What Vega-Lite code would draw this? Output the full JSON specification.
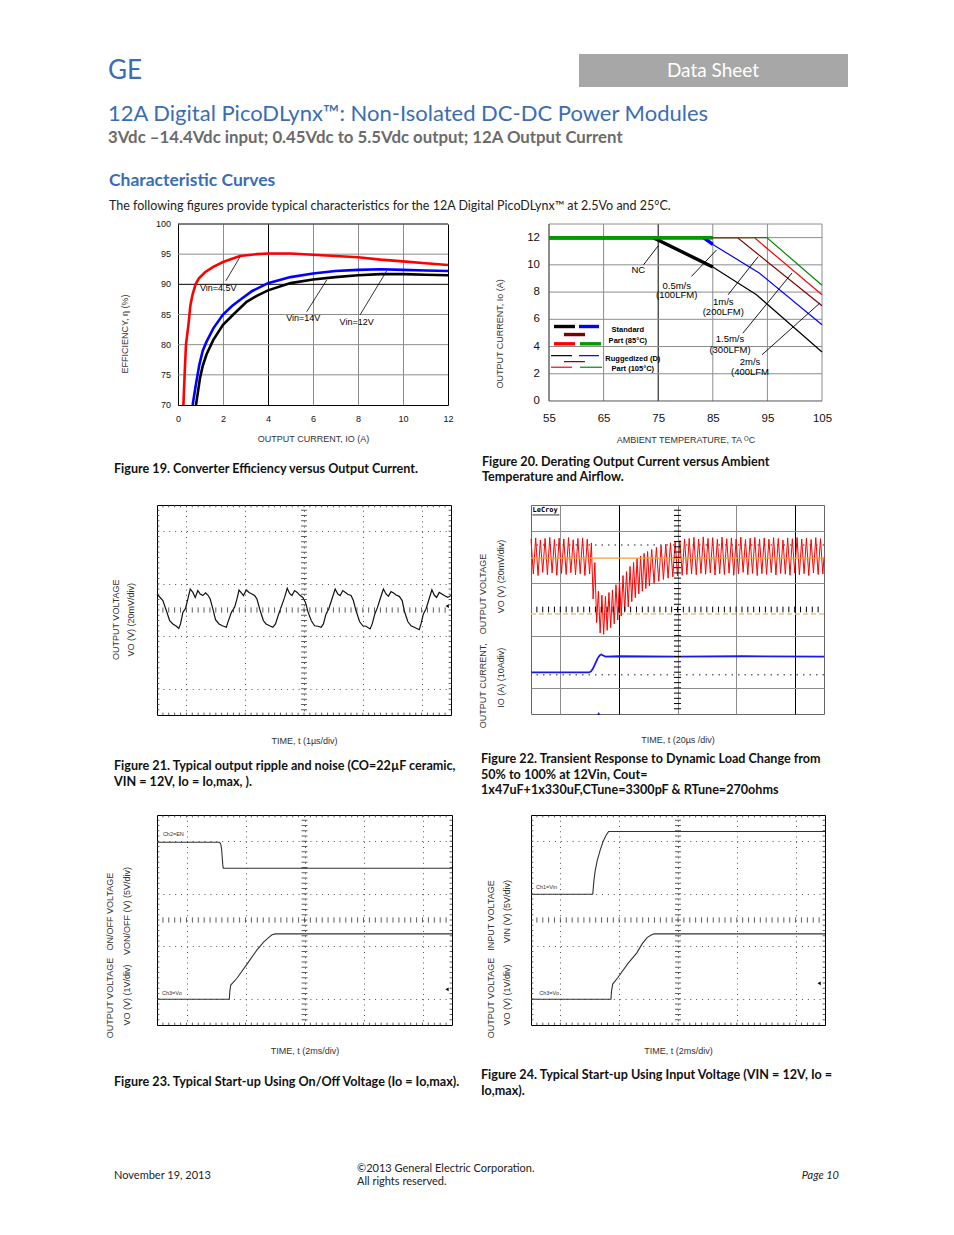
{
"$schema": "https://vega.github.io/schema/vega-lite/v6.json",
"padding": 0,
"background": "white",
"autosize": {"type": "pad"},
"config": {
  "view": {"stroke": null},
  "axis": {"labelFont": "Liberation Sans", "titleFont": "Liberation Sans", "titleFontWeight": "normal", "titleColor": "#333", "labelColor": "#111", "labelFlush": false, "labelOverlap": false},
  "title": {"orient": "bottom", "anchor": "start", "frame": "group", "font": "Lato", "fontSize": 12.6, "fontWeight": "bold", "color": "#111", "lineHeight": 15.5}
},
"datasets": {
  "one": [{}],
  "gx": [{"v":55},{"v":65},{"v":75},{"v":85},{"v":95},{"v":105}],
  "gy20": [{"v":2},{"v":4},{"v":6},{"v":8},{"v":10},{"v":12},{"v":13}],
  "gy19": [{"v":75},{"v":80},{"v":85},{"v":90},{"v":95},{"v":100}],
  "yl19": [{"v":70},{"v":75},{"v":80},{"v":85},{"v":90},{"v":95},{"v":100}],
  "yl20": [{"v":0},{"v":2},{"v":4},{"v":6},{"v":8},{"v":10},{"v":12}],
  "eff": [
    {"v":"4.5","i":0.24,"e":70},{"v":"4.5","i":0.3,"e":75.5},{"v":"4.5","i":0.355,"e":80},{"v":"4.5","i":0.47,"e":83.5},{"v":"4.5","i":0.55,"e":86.5},{"v":"4.5","i":0.64,"e":88.2},{"v":"4.5","i":0.78,"e":90},{"v":"4.5","i":0.93,"e":91},{"v":"4.5","i":1.2,"e":92},{"v":"4.5","i":1.57,"e":92.9},{"v":"4.5","i":2,"e":93.7},{"v":"4.5","i":2.75,"e":94.7},{"v":"4.5","i":3.5,"e":95},{"v":"4.5","i":4,"e":95.1},{"v":"4.5","i":5,"e":95.1},{"v":"4.5","i":6,"e":94.9},{"v":"4.5","i":7,"e":94.7},{"v":"4.5","i":8,"e":94.5},{"v":"4.5","i":9,"e":94.1},{"v":"4.5","i":10,"e":93.8},{"v":"4.5","i":11,"e":93.5},{"v":"4.5","i":12,"e":93.2},
    {"v":"14","i":0.65,"e":70},{"v":"14","i":0.8,"e":73.5},{"v":"14","i":0.95,"e":76.7},{"v":"14","i":1.1,"e":79},{"v":"14","i":1.27,"e":80.5},{"v":"14","i":1.57,"e":82.7},{"v":"14","i":2,"e":85},{"v":"14","i":2.4,"e":86.4},{"v":"14","i":2.75,"e":87.4},{"v":"14","i":3.3,"e":88.9},{"v":"14","i":4,"e":90.2},{"v":"14","i":5,"e":91.2},{"v":"14","i":6,"e":91.8},{"v":"14","i":7,"e":92.2},{"v":"14","i":8,"e":92.4},{"v":"14","i":9,"e":92.5},{"v":"14","i":10,"e":92.4},{"v":"14","i":11,"e":92.3},{"v":"14","i":12,"e":92.2},
    {"v":"12","i":0.8,"e":70},{"v":"12","i":0.9,"e":72.5},{"v":"12","i":0.98,"e":74.5},{"v":"12","i":1.1,"e":76.5},{"v":"12","i":1.27,"e":78.4},{"v":"12","i":1.57,"e":80.8},{"v":"12","i":2,"e":83.3},{"v":"12","i":2.46,"e":85},{"v":"12","i":3.05,"e":87.1},{"v":"12","i":3.5,"e":88.1},{"v":"12","i":4,"e":89},{"v":"12","i":5,"e":90.2},{"v":"12","i":6,"e":90.8},{"v":"12","i":7,"e":91.2},{"v":"12","i":8,"e":91.5},{"v":"12","i":9,"e":91.7},{"v":"12","i":10,"e":91.7},{"v":"12","i":11,"e":91.6},{"v":"12","i":12,"e":91.5}
  ],
  "ann19r": [
    {"x1":2.13,"y1":90.6,"x2":2.76,"y2":94.58},
    {"x1":5.72,"y1":85.46,"x2":6.61,"y2":90.72},
    {"x1":8.09,"y1":84.92,"x2":9.27,"y2":92.2}
  ],
  "ann19t": [
    {"x":1.79,"y":89.45,"l":"Vin=4.5V"},
    {"x":5.57,"y":84.37,"l":"Vin=14V"},
    {"x":7.94,"y":83.81,"l":"Vin=12V"}
  ],
  "der": [
    {"s":"rug_nc","g":"m","t":55,"c":12},{"s":"rug_nc","g":"m","t":74.1,"c":12},{"s":"rug_nc","g":"m","t":85,"c":9.84},{"s":"rug_nc","g":"m","t":93,"c":7.8},{"s":"rug_nc","g":"m","t":105,"c":3.6},
    {"s":"rug_nc","g":"l","t":55.37,"c":3.33},{"s":"rug_nc","g":"l","t":59.21,"c":3.33},
    {"s":"rug_05","g":"m","t":55,"c":12},{"s":"rug_05","g":"m","t":83.3,"c":12},{"s":"rug_05","g":"m","t":85,"c":11.5},{"s":"rug_05","g":"m","t":93.5,"c":9.4},{"s":"rug_05","g":"m","t":105,"c":5.6},
    {"s":"rug_05","g":"l","t":60.49,"c":3.33},{"s":"rug_05","g":"l","t":64.16,"c":3.33},
    {"s":"rug_1","g":"m","t":55,"c":12},{"s":"rug_1","g":"m","t":89.5,"c":12},{"s":"rug_1","g":"m","t":105,"c":7.0},
    {"s":"rug_1","g":"l","t":57.74,"c":2.89},{"s":"rug_1","g":"l","t":61.59,"c":2.89},
    {"s":"rug_15","g":"m","t":55,"c":12},{"s":"rug_15","g":"m","t":92.6,"c":12},{"s":"rug_15","g":"m","t":105,"c":7.8},
    {"s":"rug_15","g":"l","t":55.37,"c":2.48},{"s":"rug_15","g":"l","t":59.21,"c":2.48},
    {"s":"rug_2","g":"m","t":55,"c":12},{"s":"rug_2","g":"m","t":94.9,"c":12},{"s":"rug_2","g":"m","t":105,"c":8.5},
    {"s":"rug_2","g":"l","t":60.68,"c":2.48},{"s":"rug_2","g":"l","t":64.71,"c":2.48},
    {"s":"std_nc","g":"m","t":55,"c":12},{"s":"std_nc","g":"m","t":74.1,"c":12},{"s":"std_nc","g":"m","t":85,"c":9.84},
    {"s":"std_nc","g":"l","t":55.92,"c":5.47},{"s":"std_nc","g":"l","t":59.76,"c":5.47},
    {"s":"std_05","g":"m","t":55,"c":12},{"s":"std_05","g":"m","t":83.3,"c":12},{"s":"std_05","g":"m","t":85,"c":11.5},
    {"s":"std_05","g":"l","t":60.49,"c":5.47},{"s":"std_05","g":"l","t":64.16,"c":5.47},
    {"s":"std_1","g":"m","t":55,"c":12},{"s":"std_1","g":"m","t":85,"c":12},
    {"s":"std_1","g":"l","t":57.74,"c":4.88},{"s":"std_1","g":"l","t":61.59,"c":4.88},
    {"s":"std_15","g":"m","t":55,"c":12},{"s":"std_15","g":"m","t":85,"c":12},
    {"s":"std_15","g":"l","t":55.92,"c":4.2},{"s":"std_15","g":"l","t":59.76,"c":4.2},
    {"s":"std_2","g":"m","t":55,"c":12},{"s":"std_2","g":"m","t":85,"c":12},
    {"s":"std_2","g":"l","t":60.68,"c":4.2},{"s":"std_2","g":"l","t":64.53,"c":4.2}
  ],
  "ann20r": [
    {"x1":72.3,"y1":10.0,"x2":75.0,"y2":11.4},
    {"x1":81.1,"y1":9.15,"x2":85.7,"y2":11.1},
    {"x1":87.8,"y1":7.8,"x2":93.3,"y2":10.6},
    {"x1":90.5,"y1":4.98,"x2":99.5,"y2":9.4},
    {"x1":94.0,"y1":3.39,"x2":104.6,"y2":7.19}
  ],
  "ann20t": [
    {"x":71.36,"y":9.65,"l":"NC"},
    {"x":78.39,"y":8.47,"l":"0.5m/s"},{"x":78.39,"y":7.76,"l":"(100LFM)"},
    {"x":86.92,"y":7.27,"l":"1m/s"},{"x":86.92,"y":6.53,"l":"(200LFM)"},
    {"x":88.15,"y":4.57,"l":"1.5m/s"},{"x":88.15,"y":3.76,"l":"(300LFM)"},
    {"x":91.81,"y":2.89,"l":"2m/s"},{"x":91.81,"y":2.16,"l":"(400LFM"}
  ],
  "leg20": [
    {"x":69.44,"y":5.18,"l":"Standard"},{"x":69.44,"y":4.37,"l":"Part (85°C)"},
    {"x":70.35,"y":3.09,"l":"Ruggedized (D)"},{"x":70.35,"y":2.36,"l":"Part (105°C)"}
  ],
  "rip": [
    {"x":0,"y":4.61},{"x":0.2,"y":4.36},{"x":0.32,"y":3.97},{"x":0.43,"y":3.59},{"x":0.54,"y":3.47},{"x":0.66,"y":3.38},{"x":0.74,"y":3.3},{"x":0.8,"y":3.47},{"x":0.88,"y":3.91},{"x":0.97,"y":4.06},{"x":1.05,"y":4.42},{"x":1.13,"y":4.8},{"x":1.22,"y":4.67},{"x":1.3,"y":4.48},{"x":1.39,"y":4.74},{"x":1.47,"y":4.61},{"x":1.56,"y":4.55},{"x":1.65,"y":4.65},{"x":1.73,"y":4.57},{"x":1.81,"y":4.42},{"x":1.9,"y":4.04},{"x":1.99,"y":3.63},{"x":2.11,"y":3.47},{"x":2.22,"y":3.4},{"x":2.36,"y":3.34},{"x":2.41,"y":3.53},{"x":2.53,"y":3.91},{"x":2.64,"y":4.1},{"x":2.72,"y":4.42},{"x":2.79,"y":4.76},{"x":2.87,"y":4.65},{"x":2.94,"y":4.55},{"x":3.04,"y":4.76},{"x":3.13,"y":4.67},{"x":3.23,"y":4.61},{"x":3.32,"y":4.55},{"x":3.4,"y":4.42},{"x":3.51,"y":3.97},{"x":3.62,"y":3.59},{"x":3.71,"y":3.47},{"x":3.83,"y":3.4},{"x":3.94,"y":3.34},{"x":4.03,"y":3.47},{"x":4.14,"y":3.85},{"x":4.22,"y":4.1},{"x":4.34,"y":4.48},{"x":4.43,"y":4.83},{"x":4.51,"y":4.63},{"x":4.59,"y":4.55},{"x":4.68,"y":4.74},{"x":4.77,"y":4.67},{"x":4.85,"y":4.57},{"x":4.96,"y":4.48},{"x":5.05,"y":4.29},{"x":5.14,"y":3.91},{"x":5.25,"y":3.59},{"x":5.36,"y":3.4},{"x":5.47,"y":3.38},{"x":5.58,"y":3.34},{"x":5.66,"y":3.47},{"x":5.75,"y":3.85},{"x":5.84,"y":4.04},{"x":5.95,"y":4.42},{"x":6.06,"y":4.8},{"x":6.15,"y":4.61},{"x":6.23,"y":4.55},{"x":6.32,"y":4.74},{"x":6.41,"y":4.67},{"x":6.49,"y":4.6},{"x":6.6,"y":4.55},{"x":6.68,"y":4.36},{"x":6.77,"y":3.97},{"x":6.89,"y":3.56},{"x":7.0,"y":3.4},{"x":7.11,"y":3.38},{"x":7.25,"y":3.28},{"x":7.32,"y":3.47},{"x":7.41,"y":3.85},{"x":7.5,"y":4.1},{"x":7.59,"y":4.42},{"x":7.7,"y":4.8},{"x":7.79,"y":4.61},{"x":7.87,"y":4.52},{"x":7.96,"y":4.7},{"x":8.05,"y":4.65},{"x":8.13,"y":4.57},{"x":8.24,"y":4.52},{"x":8.34,"y":4.36},{"x":8.41,"y":3.97},{"x":8.53,"y":3.56},{"x":8.64,"y":3.4},{"x":8.75,"y":3.34},{"x":8.92,"y":3.25},{"x":8.98,"y":3.47},{"x":9.06,"y":3.85},{"x":9.15,"y":4.04},{"x":9.24,"y":4.36},{"x":9.35,"y":4.77},{"x":9.43,"y":4.57},{"x":9.51,"y":4.48},{"x":9.6,"y":4.67},{"x":9.69,"y":4.61},{"x":9.77,"y":4.55},{"x":9.89,"y":4.48},{"x":10,"y":4.55}
  ],
  "trv": [
    {"x":0,"y":6.7},{"x":0.08,"y":5.36},{"x":0.16,"y":6.74},{"x":0.24,"y":5.3},{"x":0.32,"y":6.66},{"x":0.4,"y":5.42},{"x":0.48,"y":6.72},{"x":0.56,"y":5.33},{"x":0.64,"y":6.76},{"x":0.72,"y":5.4},{"x":0.8,"y":6.68},{"x":0.88,"y":5.31},{"x":0.96,"y":6.73},{"x":1.04,"y":5.38},{"x":1.12,"y":6.7},{"x":1.2,"y":5.34},{"x":1.28,"y":6.75},{"x":1.36,"y":5.41},{"x":1.44,"y":6.67},{"x":1.52,"y":5.32},{"x":1.6,"y":6.72},{"x":1.68,"y":5.37},{"x":1.76,"y":6.74},{"x":1.84,"y":5.3},{"x":1.92,"y":6.69},{"x":2.0,"y":5.36},
    {"x":2.06,"y":6.55},{"x":2.12,"y":4.4},{"x":2.18,"y":5.8},{"x":2.24,"y":3.5},{"x":2.3,"y":4.7},{"x":2.36,"y":3.1},{"x":2.42,"y":4.55},{"x":2.48,"y":3.05},{"x":2.54,"y":4.5},{"x":2.6,"y":3.2},{"x":2.66,"y":4.65},{"x":2.72,"y":3.3},{"x":2.78,"y":4.75},{"x":2.84,"y":3.45},{"x":2.9,"y":4.95},{"x":2.96,"y":3.6},{"x":3.02,"y":5.1},{"x":3.08,"y":3.75},{"x":3.14,"y":5.3},{"x":3.2,"y":3.95},{"x":3.26,"y":5.45},{"x":3.32,"y":4.1},{"x":3.38,"y":5.65},{"x":3.44,"y":4.3},{"x":3.5,"y":5.8},{"x":3.56,"y":4.45},{"x":3.62,"y":5.95},{"x":3.68,"y":4.6},{"x":3.74,"y":6.05},{"x":3.8,"y":4.7},{"x":3.86,"y":6.15},{"x":3.92,"y":4.8},{"x":3.98,"y":6.22},{"x":4.04,"y":4.9},{"x":4.12,"y":6.3},{"x":4.2,"y":5.0},{"x":4.28,"y":6.38},{"x":4.36,"y":5.08},{"x":4.44,"y":6.45},{"x":4.52,"y":5.15},{"x":4.6,"y":6.5},{"x":4.68,"y":5.2},{"x":4.76,"y":6.55},{"x":4.84,"y":5.25},{"x":4.92,"y":6.6},{"x":5.0,"y":5.28},
    {"x":5.08,"y":6.64},{"x":5.16,"y":5.31},{"x":5.24,"y":6.7},{"x":5.32,"y":5.34},{"x":5.4,"y":6.72},{"x":5.48,"y":5.36},{"x":5.56,"y":6.76},{"x":5.64,"y":5.33},{"x":5.72,"y":6.7},{"x":5.8,"y":5.38},{"x":5.88,"y":6.78},{"x":5.96,"y":5.35},{"x":6.04,"y":6.72},{"x":6.12,"y":5.4},{"x":6.2,"y":6.75},{"x":6.28,"y":5.32},{"x":6.36,"y":6.69},{"x":6.44,"y":5.37},{"x":6.52,"y":6.77},{"x":6.6,"y":5.34},{"x":6.68,"y":6.71},{"x":6.76,"y":5.39},{"x":6.84,"y":6.74},{"x":6.92,"y":5.31},{"x":7.0,"y":6.7},{"x":7.08,"y":5.36},{"x":7.16,"y":6.77},{"x":7.24,"y":5.42},{"x":7.32,"y":6.68},{"x":7.4,"y":5.33},{"x":7.48,"y":6.73},{"x":7.56,"y":5.38},{"x":7.64,"y":6.76},{"x":7.72,"y":5.3},{"x":7.8,"y":6.7},{"x":7.88,"y":5.37},{"x":7.96,"y":6.74},{"x":8.04,"y":5.34},{"x":8.12,"y":6.69},{"x":8.2,"y":5.41},{"x":8.28,"y":6.75},{"x":8.36,"y":5.32},{"x":8.44,"y":6.72},{"x":8.52,"y":5.38},{"x":8.6,"y":6.66},{"x":8.68,"y":5.35},{"x":8.76,"y":6.74},{"x":8.84,"y":5.31},{"x":8.92,"y":6.71},{"x":9.0,"y":5.39},{"x":9.08,"y":6.76},{"x":9.16,"y":5.33},{"x":9.24,"y":6.7},{"x":9.32,"y":5.37},{"x":9.4,"y":6.73},{"x":9.48,"y":5.3},{"x":9.56,"y":6.68},{"x":9.64,"y":5.4},{"x":9.72,"y":6.75},{"x":9.8,"y":5.34},{"x":9.88,"y":6.71},{"x":9.96,"y":5.36},{"x":10,"y":6.0}
  ],
  "tri": [
    {"x":0,"y":1.59},{"x":1.98,"y":1.59},{"x":2.05,"y":1.63},{"x":2.12,"y":1.75},{"x":2.2,"y":1.95},{"x":2.28,"y":2.14},{"x":2.35,"y":2.25},{"x":2.4,"y":2.28},{"x":2.46,"y":2.24},{"x":2.55,"y":2.2},{"x":3.0,"y":2.21},{"x":5.0,"y":2.2},{"x":7.2,"y":2.21},{"x":10,"y":2.2}
  ],
  "s23": [
    {"ch":"en","x":0,"y":6.96},{"ch":"en","x":2.12,"y":6.96},{"ch":"en","x":2.16,"y":6.9},{"ch":"en","x":2.19,"y":6.7},{"ch":"en","x":2.21,"y":6.4},{"ch":"en","x":2.23,"y":6.1},{"ch":"en","x":2.25,"y":5.97},{"ch":"en","x":10,"y":5.97},
    {"ch":"vo","x":0,"y":0.98},{"ch":"vo","x":2.45,"y":0.98},{"ch":"vo","x":2.47,"y":1.3},{"ch":"vo","x":2.5,"y":1.52},{"ch":"vo","x":2.71,"y":1.78},{"ch":"vo","x":3.05,"y":2.32},{"ch":"vo","x":3.39,"y":2.86},{"ch":"vo","x":3.62,"y":3.17},{"ch":"vo","x":3.79,"y":3.34},{"ch":"vo","x":3.9,"y":3.44},{"ch":"vo","x":4.01,"y":3.47},{"ch":"vo","x":10,"y":3.47}
  ],
  "s24": [
    {"ch":"vin","x":0,"y":4.98},{"ch":"vin","x":2.1,"y":4.98},{"ch":"vin","x":2.14,"y":5.5},{"ch":"vin","x":2.18,"y":5.85},{"ch":"vin","x":2.25,"y":6.25},{"ch":"vin","x":2.35,"y":6.65},{"ch":"vin","x":2.45,"y":6.98},{"ch":"vin","x":2.55,"y":7.22},{"ch":"vin","x":2.64,"y":7.37},{"ch":"vin","x":10,"y":7.37},
    {"ch":"vo","x":0,"y":0.98},{"ch":"vo","x":2.72,"y":0.98},{"ch":"vo","x":2.74,"y":1.3},{"ch":"vo","x":2.78,"y":1.56},{"ch":"vo","x":2.95,"y":1.8},{"ch":"vo","x":3.3,"y":2.35},{"ch":"vo","x":3.6,"y":2.75},{"ch":"vo","x":3.79,"y":3.11},{"ch":"vo","x":3.95,"y":3.33},{"ch":"vo","x":4.1,"y":3.44},{"ch":"vo","x":4.2,"y":3.47},{"ch":"vo","x":10,"y":3.47}
  ],
  "tx": [{"p":0.2},{"p":0.4},{"p":0.6},{"p":0.8},{"p":1},{"p":1.2},{"p":1.4},{"p":1.6},{"p":1.8},{"p":2},{"p":2.2},{"p":2.4},{"p":2.6},{"p":2.8},{"p":3},{"p":3.2},{"p":3.4},{"p":3.6},{"p":3.8},{"p":4},{"p":4.2},{"p":4.4},{"p":4.6},{"p":4.8},{"p":5},{"p":5.2},{"p":5.4},{"p":5.6},{"p":5.8},{"p":6},{"p":6.2},{"p":6.4},{"p":6.6},{"p":6.8},{"p":7},{"p":7.2},{"p":7.4},{"p":7.6},{"p":7.8},{"p":8},{"p":8.2},{"p":8.4},{"p":8.6},{"p":8.8},{"p":9},{"p":9.2},{"p":9.4},{"p":9.6},{"p":9.8}],
  "ty": [{"p":0.2},{"p":0.4},{"p":0.6},{"p":0.8},{"p":1},{"p":1.2},{"p":1.4},{"p":1.6},{"p":1.8},{"p":2},{"p":2.2},{"p":2.4},{"p":2.6},{"p":2.8},{"p":3},{"p":3.2},{"p":3.4},{"p":3.6},{"p":3.8},{"p":4},{"p":4.2},{"p":4.4},{"p":4.6},{"p":4.8},{"p":5},{"p":5.2},{"p":5.4},{"p":5.6},{"p":5.8},{"p":6},{"p":6.2},{"p":6.4},{"p":6.6},{"p":6.8},{"p":7},{"p":7.2},{"p":7.4},{"p":7.6},{"p":7.8}]
},
"columns": 4,
"align": "each",
"bounds": "flush",
"spacing": {"row": 100, "column": 0},
"concat": [
  {
    "width": 157, "height": 124,
    "data": {"name": "one"},
    "layer": [
      {"mark": {"type": "rect", "fill": "white"},
       "encoding": {"x": {"datum": 0, "type": "quantitative", "scale": {"domain": [0, 157], "nice": false, "zero": false}, "axis": null}, "x2": {"datum": 954},
                    "y": {"datum": 0, "type": "quantitative", "scale": {"domain": [0, 124], "reverse": true, "nice": false, "zero": false}, "axis": null}, "y2": {"datum": 124}}},
      {"mark": {"type": "rect", "fill": "#a7a7a7"},
       "encoding": {"x": {"datum": 579, "type": "quantitative"}, "x2": {"datum": 848}, "y": {"datum": 54, "type": "quantitative"}, "y2": {"datum": 87}}},
      {"mark": {"type": "text", "font": "Lato", "fontSize": 26, "color": "#3b6db4", "align": "left", "baseline": "alphabetic"},
       "encoding": {"x": {"datum": 108, "type": "quantitative"}, "y": {"datum": 79, "type": "quantitative"}, "text": {"value": "GE"}}},
      {"mark": {"type": "text", "font": "Lato", "fontSize": 19, "color": "#ffffff", "align": "center", "baseline": "alphabetic"},
       "encoding": {"x": {"datum": 713, "type": "quantitative"}, "y": {"datum": 77, "type": "quantitative"}, "text": {"value": "Data Sheet"}}},
      {"mark": {"type": "text", "font": "Lato", "fontSize": 22, "color": "#3b6db4", "align": "left", "baseline": "alphabetic"},
       "encoding": {"x": {"datum": 108, "type": "quantitative"}, "y": {"datum": 121, "type": "quantitative"}, "text": {"value": "12A Digital PicoDLynx™: Non-Isolated DC-DC Power Modules"}}},
      {"mark": {"type": "text", "font": "Lato", "fontSize": 16.8, "fontWeight": "bold", "color": "#6b6b6b", "align": "left", "baseline": "alphabetic"},
       "encoding": {"x": {"datum": 108, "type": "quantitative"}, "y": {"datum": 143, "type": "quantitative"}, "text": {"value": "3Vdc –14.4Vdc input; 0.45Vdc to 5.5Vdc output; 12A Output Current"}}},
      {"mark": {"type": "text", "font": "Lato", "fontSize": 17.5, "fontWeight": "bold", "color": "#3b6db4", "align": "left", "baseline": "alphabetic"},
       "encoding": {"x": {"datum": 109, "type": "quantitative"}, "y": {"datum": 185.5, "type": "quantitative"}, "text": {"value": "Characteristic Curves"}}},
      {"mark": {"type": "text", "font": "Lato", "fontSize": 12.5, "color": "#222", "align": "left", "baseline": "alphabetic"},
       "encoding": {"x": {"datum": 109, "type": "quantitative"}, "y": {"datum": 209.5, "type": "quantitative"}, "text": {"value": "The following figures provide typical characteristics for the 12A Digital PicoDLynx™ at 2.5Vo and 25°C."}}}
    ]
  },
  {"width": 1, "height": 124, "data": {"name": "one"}, "mark": {"type": "point", "opacity": 0}, "encoding": {}},
  {"width": 1, "height": 124, "data": {"name": "one"}, "mark": {"type": "point", "opacity": 0}, "encoding": {}},
  {"width": 1, "height": 124, "data": {"name": "one"}, "mark": {"type": "point", "opacity": 0}, "encoding": {}},
  {"width": 157, "height": 181, "data": {"name": "one"}, "mark": {"type": "point", "opacity": 0}, "encoding": {}},
  {
    "width": 295, "height": 181,
    "title": {"text": "Figure 19. Converter Efficiency versus Output Current.", "dx": -43, "offset": 20},
    "layer": [
      {"data": {"name": "gy19"}, "mark": {"type": "rule", "strokeWidth": 1},
       "encoding": {"y": {"field": "v", "type": "quantitative"}, "x": {"datum": 0, "type": "quantitative"}, "x2": {"datum": 12},
                    "color": {"condition": {"test": "datum.v === 90 || datum.v === 100", "value": "#000"}, "value": "#8c8c8c"}}},
      {"data": {"name": "eff"}, "transform": [{"filter": "datum.v === '12'"}],
       "mark": {"type": "line", "color": "#000", "strokeWidth": 2.6, "clip": true},
       "encoding": {
         "x": {"field": "i", "type": "quantitative", "scale": {"domain": [0, 12], "range": [21, 291], "nice": false, "zero": false},
               "axis": {"values": [0, 2, 4, 6, 8, 10, 12], "grid": true, "gridColor": {"condition": {"test": "datum.value === 4 || datum.value === 12", "value": "#000"}, "value": "#8c8c8c"}, "ticks": false, "domainColor": "#000", "labelFontSize": 9, "labelPadding": 9, "labelOverlap": false, "title": "OUTPUT CURRENT, IO (A)", "titleFontSize": 9, "titlePadding": 11}},
         "y": {"field": "e", "type": "quantitative", "scale": {"domain": [70, 100], "nice": false, "zero": false},
               "axis": {"grid": false, "offset": -21, "ticks": false, "labels": false, "domainColor": "#000", "title": null}}
       }},
      {"data": {"name": "eff"}, "transform": [{"filter": "datum.v === '14'"}],
       "mark": {"type": "line", "color": "#0000ff", "strokeWidth": 2.6, "clip": true},
       "encoding": {"x": {"field": "i", "type": "quantitative"}, "y": {"field": "e", "type": "quantitative"}}},
      {"data": {"name": "eff"}, "transform": [{"filter": "datum.v === '4.5'"}],
       "mark": {"type": "line", "color": "#ff0000", "strokeWidth": 2.6, "clip": true},
       "encoding": {"x": {"field": "i", "type": "quantitative"}, "y": {"field": "e", "type": "quantitative"}}},
      {"data": {"name": "yl19"}, "mark": {"type": "text", "font": "Liberation Sans", "fontSize": 9, "color": "#111", "align": "right", "baseline": "middle"},
       "encoding": {"y": {"field": "v", "type": "quantitative"}, "x": {"datum": -0.31, "type": "quantitative"}, "text": {"field": "v", "type": "quantitative"}}},
      {"data": {"name": "ann19r"}, "mark": {"type": "rule", "color": "#000", "strokeWidth": 0.8},
       "encoding": {"x": {"field": "x1", "type": "quantitative"}, "y": {"field": "y1", "type": "quantitative"}, "x2": {"field": "x2"}, "y2": {"field": "y2"}}},
      {"data": {"name": "ann19t"}, "mark": {"type": "text", "font": "Liberation Sans", "fontSize": 9, "color": "#000"},
       "encoding": {"x": {"field": "x", "type": "quantitative"}, "y": {"field": "y", "type": "quantitative"}, "text": {"field": "l"}}},
      {"data": {"name": "one"}, "mark": {"type": "text", "angle": 270, "font": "Liberation Sans", "fontSize": 9, "color": "#333"},
       "encoding": {"x": {"datum": -2.36, "type": "quantitative"}, "y": {"datum": 81.77, "type": "quantitative"}, "text": {"value": "EFFICIENCY, η  (%)"}}}
    ]
  },
  {"width": 79, "height": 181, "data": {"name": "one"}, "mark": {"type": "point", "opacity": 0}, "encoding": {}},
  {
    "width": 295, "height": 181,
    "title": {"text": ["Figure 20. Derating Output Current versus Ambient", "Temperature and Airflow."], "dx": -49, "offset": 11},
    "data": {"name": "der"},
    "layer": [
      {"data": {"name": "gx"}, "mark": {"type": "rule", "strokeWidth": 1},
       "encoding": {
         "x": {"field": "v", "type": "quantitative", "scale": {"domain": [55, 105], "range": [18, 291], "nice": false, "zero": false},
               "axis": {"values": [55, 65, 75, 85, 95, 105], "grid": false, "ticks": false, "domain": false, "offset": -4, "labelFontSize": 11.5, "labelPadding": 11, "labelOverlap": false, "title": "AMBIENT TEMPERATURE, TA ᴼC", "titleFontSize": 9, "titlePadding": 12}},
         "y": {"datum": 0, "type": "quantitative", "scale": {"domain": [-0.295, 13], "nice": false, "zero": false},
               "axis": null},
         "y2": {"datum": 13},
         "color": {"condition": {"test": "datum.v === 75", "value": "#000"}, "value": "#8c8c8c"}
       }},
      {"data": {"name": "gy20"}, "mark": {"type": "rule", "color": "#8c8c8c", "strokeWidth": 1}, "encoding": {"y": {"field": "v", "type": "quantitative", "axis": null}, "x": {"datum": 55, "type": "quantitative"}, "x2": {"datum": 105}}},
      {"data": {"name": "one"}, "mark": {"type": "rule", "color": "#555", "strokeWidth": 1}, "encoding": {"x": {"datum": 55, "type": "quantitative"}, "x2": {"datum": 105}, "y": {"datum": 0, "type": "quantitative", "axis": null}}},
      {"data": {"name": "one"}, "mark": {"type": "rule", "color": "#555", "strokeWidth": 1}, "encoding": {"x": {"datum": 55, "type": "quantitative"}, "y": {"datum": 0, "type": "quantitative", "axis": null}, "y2": {"datum": 13}}},
      {"data": {"name": "yl20"}, "mark": {"type": "text", "font": "Liberation Sans", "fontSize": 11.5, "color": "#111", "align": "right", "baseline": "middle"},
       "encoding": {"y": {"field": "v", "type": "quantitative", "axis": null}, "x": {"datum": 53.35, "type": "quantitative"}, "text": {"field": "v", "type": "quantitative"}}},
      {"transform": [{"filter": "datum.s === 'rug_nc'"}], "mark": {"type": "line", "color": "#000", "strokeWidth": 1.2},
       "encoding": {"x": {"field": "t", "type": "quantitative"}, "y": {"field": "c", "type": "quantitative", "axis": null}, "detail": {"field": "g"}}},
      {"transform": [{"filter": "datum.s === 'rug_05'"}], "mark": {"type": "line", "color": "#0000ff", "strokeWidth": 1.2},
       "encoding": {"x": {"field": "t", "type": "quantitative"}, "y": {"field": "c", "type": "quantitative", "axis": null}, "detail": {"field": "g"}}},
      {"transform": [{"filter": "datum.s === 'rug_1'"}], "mark": {"type": "line", "color": "#800000", "strokeWidth": 1.2},
       "encoding": {"x": {"field": "t", "type": "quantitative"}, "y": {"field": "c", "type": "quantitative", "axis": null}, "detail": {"field": "g"}}},
      {"transform": [{"filter": "datum.s === 'rug_15'"}], "mark": {"type": "line", "color": "#ff0000", "strokeWidth": 1.2},
       "encoding": {"x": {"field": "t", "type": "quantitative"}, "y": {"field": "c", "type": "quantitative", "axis": null}, "detail": {"field": "g"}}},
      {"transform": [{"filter": "datum.s === 'rug_2'"}], "mark": {"type": "line", "color": "#008a00", "strokeWidth": 1.2},
       "encoding": {"x": {"field": "t", "type": "quantitative"}, "y": {"field": "c", "type": "quantitative", "axis": null}, "detail": {"field": "g"}}},
      {"transform": [{"filter": "datum.s === 'std_nc'"}], "mark": {"type": "line", "color": "#000", "strokeWidth": 3.4},
       "encoding": {"x": {"field": "t", "type": "quantitative"}, "y": {"field": "c", "type": "quantitative", "axis": null}, "detail": {"field": "g"}}},
      {"transform": [{"filter": "datum.s === 'std_05'"}], "mark": {"type": "line", "color": "#0000ff", "strokeWidth": 3.4},
       "encoding": {"x": {"field": "t", "type": "quantitative"}, "y": {"field": "c", "type": "quantitative", "axis": null}, "detail": {"field": "g"}}},
      {"transform": [{"filter": "datum.s === 'std_1'"}], "mark": {"type": "line", "color": "#800000", "strokeWidth": 3.4},
       "encoding": {"x": {"field": "t", "type": "quantitative"}, "y": {"field": "c", "type": "quantitative", "axis": null}, "detail": {"field": "g"}}},
      {"transform": [{"filter": "datum.s === 'std_15'"}], "mark": {"type": "line", "color": "#ff0000", "strokeWidth": 3.4},
       "encoding": {"x": {"field": "t", "type": "quantitative"}, "y": {"field": "c", "type": "quantitative", "axis": null}, "detail": {"field": "g"}}},
      {"transform": [{"filter": "datum.s === 'std_2'"}], "mark": {"type": "line", "color": "#009a00", "strokeWidth": 3.4},
       "encoding": {"x": {"field": "t", "type": "quantitative"}, "y": {"field": "c", "type": "quantitative", "axis": null}, "detail": {"field": "g"}}},
      {"data": {"name": "ann20r"}, "mark": {"type": "rule", "color": "#000", "strokeWidth": 0.9},
       "encoding": {"x": {"field": "x1", "type": "quantitative"}, "y": {"field": "y1", "type": "quantitative", "axis": null}, "x2": {"field": "x2"}, "y2": {"field": "y2"}}},
      {"data": {"name": "ann20t"}, "mark": {"type": "text", "font": "Liberation Sans", "fontSize": 9.5, "color": "#000"},
       "encoding": {"x": {"field": "x", "type": "quantitative"}, "y": {"field": "y", "type": "quantitative", "axis": null}, "text": {"field": "l"}}},
      {"data": {"name": "leg20"}, "mark": {"type": "text", "font": "Liberation Sans", "fontSize": 7.5, "fontWeight": "bold", "color": "#000"},
       "encoding": {"x": {"field": "x", "type": "quantitative"}, "y": {"field": "y", "type": "quantitative", "axis": null}, "text": {"field": "l"}}},
      {"data": {"name": "one"}, "mark": {"type": "text", "angle": 270, "font": "Liberation Sans", "fontSize": 9, "color": "#333"},
       "encoding": {"x": {"datum": 46.03, "type": "quantitative"}, "y": {"datum": 4.93, "type": "quantitative", "axis": null}, "text": {"value": "OUTPUT CURRENT, Io  (A)"}}}
    ]
  },
  {"width": 157, "height": 210, "data": {"name": "one"}, "mark": {"type": "point", "opacity": 0}, "encoding": {}},
  {
    "width": 294, "height": 210,
    "view": {"stroke": "#000"},
    "title": {"text": ["Figure 21. Typical output ripple and noise (CO=22µF ceramic,", "VIN = 12V, Io = Io,max, )."], "dx": -43, "offset": 15},
    "layer": [
      {"data": {"name": "rip"}, "mark": {"type": "line", "color": "#111", "strokeWidth": 1.2},
       "encoding": {
         "x": {"field": "x", "type": "quantitative", "scale": {"domain": [0, 10], "nice": false, "zero": false},
               "axis": {"values": [1, 2, 3, 4, 5, 6, 7, 8, 9], "grid": true, "gridColor": "#555", "gridDash": [1, 4.25], "ticks": false, "labels": false, "domain": false, "title": "TIME, t (1µs/div)", "titleFontSize": 9, "titlePadding": 21}},
         "y": {"field": "y", "type": "quantitative", "scale": {"domain": [0, 8], "nice": false, "zero": false},
               "axis": {"values": [1, 2, 3, 4, 5, 6, 7], "grid": true, "gridColor": "#555", "gridDash": [1, 4.88], "ticks": false, "labels": false, "domain": false, "title": null}}
       }},
      {"data": {"name": "tx"}, "mark": {"type": "rule", "color": "#333", "strokeWidth": 0.8}, "encoding": {"x": {"field": "p", "type": "quantitative"}, "y": {"datum": 3.9, "type": "quantitative"}, "y2": {"datum": 4.1}}},
      {"data": {"name": "ty"}, "mark": {"type": "rule", "color": "#333", "strokeWidth": 0.8}, "encoding": {"y": {"field": "p", "type": "quantitative"}, "x": {"datum": 4.9, "type": "quantitative"}, "x2": {"datum": 5.1}}},
      {"data": {"name": "tx"}, "mark": {"type": "rule", "color": "#333", "strokeWidth": 0.8}, "encoding": {"x": {"field": "p", "type": "quantitative"}, "y": {"datum": 0, "type": "quantitative"}, "y2": {"datum": 0.09}}},
      {"data": {"name": "tx"}, "mark": {"type": "rule", "color": "#333", "strokeWidth": 0.8}, "encoding": {"x": {"field": "p", "type": "quantitative"}, "y": {"datum": 7.91, "type": "quantitative"}, "y2": {"datum": 8}}},
      {"data": {"name": "ty"}, "mark": {"type": "rule", "color": "#333", "strokeWidth": 0.8}, "encoding": {"y": {"field": "p", "type": "quantitative"}, "x": {"datum": 0, "type": "quantitative"}, "x2": {"datum": 0.08}}},
      {"data": {"name": "ty"}, "mark": {"type": "rule", "color": "#333", "strokeWidth": 0.8}, "encoding": {"y": {"field": "p", "type": "quantitative"}, "x": {"datum": 9.92, "type": "quantitative"}, "x2": {"datum": 10}}},
      {"data": {"name": "one"}, "mark": {"type": "point", "shape": "triangle-left", "filled": true, "color": "#000", "size": 14, "opacity": 1}, "encoding": {"x": {"datum": 9.87, "type": "quantitative"}, "y": {"datum": 4.15, "type": "quantitative"}}},
      {"data": {"name": "one"}, "mark": {"type": "text", "angle": 270, "font": "Liberation Sans", "fontSize": 9, "color": "#333"}, "encoding": {"x": {"datum": -1.38, "type": "quantitative"}, "y": {"datum": 3.63, "type": "quantitative"}, "text": {"value": "OUTPUT VOLTAGE"}}},
      {"data": {"name": "one"}, "mark": {"type": "text", "angle": 270, "font": "Liberation Sans", "fontSize": 9, "color": "#333"}, "encoding": {"x": {"datum": -0.87, "type": "quantitative"}, "y": {"datum": 3.63, "type": "quantitative"}, "text": {"value": "VO (V) (20mV/div)"}}}
    ]
  },
  {"width": 79, "height": 210, "data": {"name": "one"}, "mark": {"type": "point", "opacity": 0}, "encoding": {}},
  {
    "width": 293, "height": 209,
    "view": {"stroke": "#666"},
    "title": {"text": ["Figure 22. Transient Response to Dynamic Load Change from", "50% to 100% at 12Vin, Cout=", "1x47uF+1x330uF,CTune=3300pF & RTune=270ohms"], "dx": -50, "offset": 9},
    "layer": [
      {"data": {"name": "one"}, "mark": {"type": "rule", "color": "#222", "strokeWidth": 1, "strokeDash": [1.5, 5]}, "encoding": {"y": {"datum": 6.47, "type": "quantitative"}}},
      {"data": {"name": "one"}, "mark": {"type": "rule", "color": "#222", "strokeWidth": 1, "strokeDash": [1.5, 5]}, "encoding": {"y": {"datum": 1.5, "type": "quantitative"}}},
      {"data": {"name": "one"}, "mark": {"type": "rule", "color": "#f5c17f", "strokeWidth": 1.5, "strokeDash": [5, 3]}, "encoding": {"y": {"datum": 3.83, "type": "quantitative"}}},
      {"data": {"name": "trv"}, "mark": {"type": "line", "color": "#ff0000", "strokeWidth": 1},
       "encoding": {
         "x": {"field": "x", "type": "quantitative", "scale": {"domain": [0, 10], "nice": false, "zero": false},
               "axis": {"values": [1, 2, 3, 4, 5, 6, 7, 8, 9], "grid": true, "gridColor": {"condition": {"test": "indexof([2,3,6,9], datum.value) >= 0", "value": "#000"}, "value": "#8c8c8c"}, "ticks": false, "labels": false, "domain": false, "title": "TIME, t (20µs /div)", "titleFontSize": 9, "titlePadding": 21}},
         "y": {"field": "y", "type": "quantitative", "scale": {"domain": [0, 8], "nice": false, "zero": false},
               "axis": {"values": [1, 2, 3, 4, 5, 6, 7], "grid": true, "gridColor": "#8c8c8c", "ticks": false, "labels": false, "domain": false, "title": null}}
       }},
      {"data": {"name": "one"}, "mark": {"type": "rule", "color": "#f0a030", "strokeWidth": 1.2}, "encoding": {"y": {"datum": 5.97, "type": "quantitative"}}},
      {"data": {"name": "tri"}, "mark": {"type": "line", "color": "#1a1aee", "strokeWidth": 1.8}, "encoding": {"x": {"field": "x", "type": "quantitative"}, "y": {"field": "y", "type": "quantitative"}}},
      {"data": {"name": "tx"}, "mark": {"type": "rule", "color": "#000", "strokeWidth": 1}, "encoding": {"x": {"field": "p", "type": "quantitative"}, "y": {"datum": 3.89, "type": "quantitative"}, "y2": {"datum": 4.11}}},
      {"data": {"name": "ty"}, "mark": {"type": "rule", "color": "#000", "strokeWidth": 1}, "encoding": {"y": {"field": "p", "type": "quantitative"}, "x": {"datum": 4.88, "type": "quantitative"}, "x2": {"datum": 5.12}}},
      {"data": {"name": "one"}, "mark": {"type": "text", "font": "DejaVu Sans Mono", "fontSize": 7, "fontWeight": "bold", "color": "#000", "align": "left"}, "encoding": {"x": {"datum": 0.05, "type": "quantitative"}, "y": {"datum": 7.8, "type": "quantitative"}, "text": {"value": "LeCroy"}}},
      {"data": {"name": "one"}, "mark": {"type": "rule", "color": "#000", "strokeWidth": 0.8}, "encoding": {"x": {"datum": 0.05, "type": "quantitative"}, "x2": {"datum": 0.97}, "y": {"datum": 7.62, "type": "quantitative"}}},
      {"data": {"name": "one"}, "mark": {"type": "point", "shape": "triangle-up", "filled": true, "color": "#1a1aee", "size": 12, "opacity": 1}, "encoding": {"x": {"datum": 2.31, "type": "quantitative"}, "y": {"datum": 0.02, "type": "quantitative"}}},
      {"data": {"name": "one"}, "mark": {"type": "text", "angle": 270, "font": "Liberation Sans", "fontSize": 9, "color": "#333"}, "encoding": {"x": {"datum": -1.65, "type": "quantitative"}, "y": {"datum": 4.59, "type": "quantitative"}, "text": {"value": "OUTPUT VOLTAGE"}}},
      {"data": {"name": "one"}, "mark": {"type": "text", "angle": 270, "font": "Liberation Sans", "fontSize": 9, "color": "#333"}, "encoding": {"x": {"datum": -1.03, "type": "quantitative"}, "y": {"datum": 5.26, "type": "quantitative"}, "text": {"value": "VO (V) (20mV/div)"}}},
      {"data": {"name": "one"}, "mark": {"type": "text", "angle": 270, "font": "Liberation Sans", "fontSize": 9, "color": "#333"}, "encoding": {"x": {"datum": -1.65, "type": "quantitative"}, "y": {"datum": 1.08, "type": "quantitative"}, "text": {"value": "OUTPUT CURRENT,"}}},
      {"data": {"name": "one"}, "mark": {"type": "text", "angle": 270, "font": "Liberation Sans", "fontSize": 9, "color": "#333"}, "encoding": {"x": {"datum": -1.03, "type": "quantitative"}, "y": {"datum": 1.39, "type": "quantitative"}, "text": {"value": "IO (A) (10Adiv)"}}}
    ]
  },
  {"width": 157, "height": 210, "data": {"name": "one"}, "mark": {"type": "point", "opacity": 0}, "encoding": {}},
  {
    "width": 295, "height": 210,
    "view": {"stroke": "#000"},
    "title": {"text": "Figure 23. Typical Start-up Using On/Off Voltage (Io = Io,max).", "dx": -43, "offset": 21},
    "layer": [
      {"data": {"name": "s23"}, "mark": {"type": "line", "color": "#333", "strokeWidth": 1.1},
       "encoding": {
         "x": {"field": "x", "type": "quantitative", "scale": {"domain": [0, 10], "nice": false, "zero": false},
               "axis": {"values": [1, 2, 3, 4, 5, 6, 7, 8, 9], "grid": true, "gridColor": "#555", "gridDash": [1, 4.25], "ticks": false, "labels": false, "domain": false, "title": "TIME, t (2ms/div)", "titleFontSize": 9, "titlePadding": 21}},
         "y": {"field": "y", "type": "quantitative", "scale": {"domain": [0, 8], "nice": false, "zero": false},
               "axis": {"values": [1, 2, 3, 4, 5, 6, 7], "grid": true, "gridColor": "#555", "gridDash": [1, 4.88], "ticks": false, "labels": false, "domain": false, "title": null}},
         "detail": {"field": "ch"}
       }},
      {"data": {"name": "tx"}, "mark": {"type": "rule", "color": "#333", "strokeWidth": 0.8}, "encoding": {"x": {"field": "p", "type": "quantitative"}, "y": {"datum": 3.9, "type": "quantitative"}, "y2": {"datum": 4.1}}},
      {"data": {"name": "ty"}, "mark": {"type": "rule", "color": "#333", "strokeWidth": 0.8}, "encoding": {"y": {"field": "p", "type": "quantitative"}, "x": {"datum": 4.9, "type": "quantitative"}, "x2": {"datum": 5.1}}},
      {"data": {"name": "tx"}, "mark": {"type": "rule", "color": "#333", "strokeWidth": 0.8}, "encoding": {"x": {"field": "p", "type": "quantitative"}, "y": {"datum": 0, "type": "quantitative"}, "y2": {"datum": 0.09}}},
      {"data": {"name": "tx"}, "mark": {"type": "rule", "color": "#333", "strokeWidth": 0.8}, "encoding": {"x": {"field": "p", "type": "quantitative"}, "y": {"datum": 7.91, "type": "quantitative"}, "y2": {"datum": 8}}},
      {"data": {"name": "ty"}, "mark": {"type": "rule", "color": "#333", "strokeWidth": 0.8}, "encoding": {"y": {"field": "p", "type": "quantitative"}, "x": {"datum": 0, "type": "quantitative"}, "x2": {"datum": 0.08}}},
      {"data": {"name": "ty"}, "mark": {"type": "rule", "color": "#333", "strokeWidth": 0.8}, "encoding": {"y": {"field": "p", "type": "quantitative"}, "x": {"datum": 9.92, "type": "quantitative"}, "x2": {"datum": 10}}},
      {"data": {"name": "one"}, "mark": {"type": "text", "font": "Liberation Sans", "fontSize": 5.5, "color": "#333", "align": "left"}, "encoding": {"x": {"datum": 0.2, "type": "quantitative"}, "y": {"datum": 7.26, "type": "quantitative"}, "text": {"value": "Ch2=EN"}}},
      {"data": {"name": "one"}, "mark": {"type": "text", "font": "Liberation Sans", "fontSize": 5.5, "color": "#333", "align": "left"}, "encoding": {"x": {"datum": 0.17, "type": "quantitative"}, "y": {"datum": 1.21, "type": "quantitative"}, "text": {"value": "Ch3=Vo"}}},
      {"data": {"name": "one"}, "mark": {"type": "point", "shape": "triangle-left", "filled": true, "color": "#000", "size": 14, "opacity": 1}, "encoding": {"x": {"datum": 9.83, "type": "quantitative"}, "y": {"datum": 1.36, "type": "quantitative"}}},
      {"data": {"name": "one"}, "mark": {"type": "text", "angle": 270, "font": "Liberation Sans", "fontSize": 9, "color": "#333"}, "encoding": {"x": {"datum": -1.61, "type": "quantitative"}, "y": {"datum": 4.32, "type": "quantitative"}, "text": {"value": "ON/OFF VOLTAGE"}}},
      {"data": {"name": "one"}, "mark": {"type": "text", "angle": 270, "font": "Liberation Sans", "fontSize": 9, "color": "#333"}, "encoding": {"x": {"datum": -1.02, "type": "quantitative"}, "y": {"datum": 4.34, "type": "quantitative"}, "text": {"value": "VON/OFF (V) (5V/div)"}}},
      {"data": {"name": "one"}, "mark": {"type": "text", "angle": 270, "font": "Liberation Sans", "fontSize": 9, "color": "#333"}, "encoding": {"x": {"datum": -1.61, "type": "quantitative"}, "y": {"datum": 1.03, "type": "quantitative"}, "text": {"value": "OUTPUT VOLTAGE"}}},
      {"data": {"name": "one"}, "mark": {"type": "text", "angle": 270, "font": "Liberation Sans", "fontSize": 9, "color": "#333"}, "encoding": {"x": {"datum": -1.02, "type": "quantitative"}, "y": {"datum": 1.14, "type": "quantitative"}, "text": {"value": "VO (V) (1V/div)"}}}
    ]
  },
  {"width": 79, "height": 210, "data": {"name": "one"}, "mark": {"type": "point", "opacity": 0}, "encoding": {}},
  {
    "width": 294, "height": 210,
    "view": {"stroke": "#000"},
    "title": {"text": ["Figure 24. Typical Start-up Using Input Voltage (VIN = 12V, Io =", "Io,max)."], "dx": -50, "offset": 14},
    "layer": [
      {"data": {"name": "s24"}, "mark": {"type": "line", "color": "#333", "strokeWidth": 1.1},
       "encoding": {
         "x": {"field": "x", "type": "quantitative", "scale": {"domain": [0, 10], "nice": false, "zero": false},
               "axis": {"values": [1, 2, 3, 4, 5, 6, 7, 8, 9], "grid": true, "gridColor": "#555", "gridDash": [1, 4.25], "ticks": false, "labels": false, "domain": false, "title": "TIME, t (2ms/div)", "titleFontSize": 9, "titlePadding": 21}},
         "y": {"field": "y", "type": "quantitative", "scale": {"domain": [0, 8], "nice": false, "zero": false},
               "axis": {"values": [1, 2, 3, 4, 5, 6, 7], "grid": true, "gridColor": "#555", "gridDash": [1, 4.88], "ticks": false, "labels": false, "domain": false, "title": null}},
         "detail": {"field": "ch"}
       }},
      {"data": {"name": "tx"}, "mark": {"type": "rule", "color": "#333", "strokeWidth": 0.8}, "encoding": {"x": {"field": "p", "type": "quantitative"}, "y": {"datum": 3.9, "type": "quantitative"}, "y2": {"datum": 4.1}}},
      {"data": {"name": "ty"}, "mark": {"type": "rule", "color": "#333", "strokeWidth": 0.8}, "encoding": {"y": {"field": "p", "type": "quantitative"}, "x": {"datum": 4.9, "type": "quantitative"}, "x2": {"datum": 5.1}}},
      {"data": {"name": "tx"}, "mark": {"type": "rule", "color": "#333", "strokeWidth": 0.8}, "encoding": {"x": {"field": "p", "type": "quantitative"}, "y": {"datum": 0, "type": "quantitative"}, "y2": {"datum": 0.09}}},
      {"data": {"name": "tx"}, "mark": {"type": "rule", "color": "#333", "strokeWidth": 0.8}, "encoding": {"x": {"field": "p", "type": "quantitative"}, "y": {"datum": 7.91, "type": "quantitative"}, "y2": {"datum": 8}}},
      {"data": {"name": "ty"}, "mark": {"type": "rule", "color": "#333", "strokeWidth": 0.8}, "encoding": {"y": {"field": "p", "type": "quantitative"}, "x": {"datum": 0, "type": "quantitative"}, "x2": {"datum": 0.08}}},
      {"data": {"name": "ty"}, "mark": {"type": "rule", "color": "#333", "strokeWidth": 0.8}, "encoding": {"y": {"field": "p", "type": "quantitative"}, "x": {"datum": 9.92, "type": "quantitative"}, "x2": {"datum": 10}}},
      {"data": {"name": "one"}, "mark": {"type": "text", "font": "Liberation Sans", "fontSize": 5.5, "color": "#333", "align": "left"}, "encoding": {"x": {"datum": 0.17, "type": "quantitative"}, "y": {"datum": 5.24, "type": "quantitative"}, "text": {"value": "Ch1=Vin"}}},
      {"data": {"name": "one"}, "mark": {"type": "text", "font": "Liberation Sans", "fontSize": 5.5, "color": "#333", "align": "left"}, "encoding": {"x": {"datum": 0.28, "type": "quantitative"}, "y": {"datum": 1.23, "type": "quantitative"}, "text": {"value": "Ch3=Vo"}}},
      {"data": {"name": "one"}, "mark": {"type": "point", "shape": "triangle-left", "filled": true, "color": "#000", "size": 14, "opacity": 1}, "encoding": {"x": {"datum": 9.8, "type": "quantitative"}, "y": {"datum": 1.59, "type": "quantitative"}}},
      {"data": {"name": "one"}, "mark": {"type": "text", "angle": 270, "font": "Liberation Sans", "fontSize": 9, "color": "#333"}, "encoding": {"x": {"datum": -1.36, "type": "quantitative"}, "y": {"datum": 4.17, "type": "quantitative"}, "text": {"value": "INPUT VOLTAGE"}}},
      {"data": {"name": "one"}, "mark": {"type": "text", "angle": 270, "font": "Liberation Sans", "fontSize": 9, "color": "#333"}, "encoding": {"x": {"datum": -0.8, "type": "quantitative"}, "y": {"datum": 4.32, "type": "quantitative"}, "text": {"value": "VIN (V) (5V/div)"}}},
      {"data": {"name": "one"}, "mark": {"type": "text", "angle": 270, "font": "Liberation Sans", "fontSize": 9, "color": "#333"}, "encoding": {"x": {"datum": -1.36, "type": "quantitative"}, "y": {"datum": 1.03, "type": "quantitative"}, "text": {"value": "OUTPUT VOLTAGE"}}},
      {"data": {"name": "one"}, "mark": {"type": "text", "angle": 270, "font": "Liberation Sans", "fontSize": 9, "color": "#333"}, "encoding": {"x": {"datum": -0.8, "type": "quantitative"}, "y": {"datum": 1.14, "type": "quantitative"}, "text": {"value": "VO (V) (1V/div)"}}}
    ]
  },
  {
    "width": 157, "height": 110,
    "data": {"name": "one"},
    "layer": [
      {"mark": {"type": "rect", "fill": "white"},
       "encoding": {"x": {"datum": 0, "type": "quantitative", "scale": {"domain": [0, 157], "nice": false, "zero": false}, "axis": null}, "x2": {"datum": 954},
                    "y": {"datum": 0, "type": "quantitative", "scale": {"domain": [0, 110], "reverse": true, "nice": false, "zero": false}, "axis": null}, "y2": {"datum": 110}}},
      {"mark": {"type": "text", "font": "Lato", "fontSize": 11, "color": "#222", "align": "left", "baseline": "alphabetic"},
       "encoding": {"x": {"datum": 114, "type": "quantitative"}, "y": {"datum": 54, "type": "quantitative"}, "text": {"value": "November 19, 2013"}}},
      {"mark": {"type": "text", "font": "Lato", "fontSize": 11, "color": "#222", "align": "left", "baseline": "alphabetic"},
       "encoding": {"x": {"datum": 357, "type": "quantitative"}, "y": {"datum": 47, "type": "quantitative"}, "text": {"value": "©2013 General Electric Corporation."}}},
      {"mark": {"type": "text", "font": "Lato", "fontSize": 11, "color": "#222", "align": "left", "baseline": "alphabetic"},
       "encoding": {"x": {"datum": 357, "type": "quantitative"}, "y": {"datum": 60, "type": "quantitative"}, "text": {"value": "All rights reserved."}}},
      {"mark": {"type": "text", "font": "Lato", "fontSize": 11, "fontStyle": "italic", "color": "#222", "align": "right", "baseline": "alphabetic"},
       "encoding": {"x": {"datum": 839, "type": "quantitative"}, "y": {"datum": 54, "type": "quantitative"}, "text": {"value": "Page 10"}}}
    ]
  }
]
}
